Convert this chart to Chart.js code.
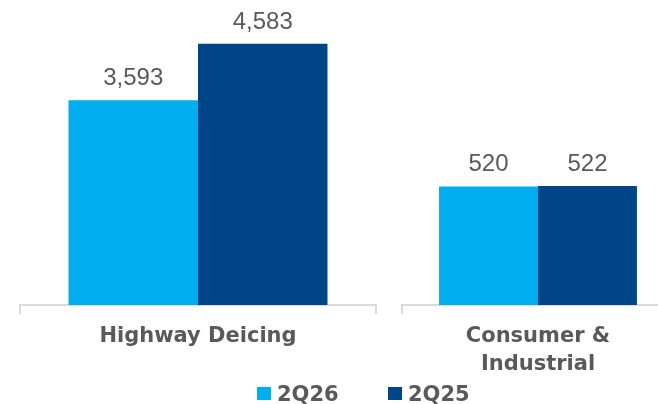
<!DOCTYPE html>
<html>
<head>
<meta charset="utf-8">
<script src="https://cdn.jsdelivr.net/npm/chart.js@4/dist/chart.umd.min.js"></script>
<style>
  html, body { margin: 0; padding: 0; width: 658px; height: 404px; overflow: hidden; background: #fff; }
  canvas { position: absolute; top: 0; }
  #chartLeft { left: 0; }
  #chartRight { left: 382px; }
  .legend-item { position: absolute; top: 382px; height: 21px; line-height: 21px; font: bold 21px "DejaVu Sans", sans-serif; color: #595959; white-space: nowrap; }
  .legend-item .swatch { position: absolute; left: 0; top: 5px; width: 14px; height: 13px; }
  .legend-item .name { margin-left: 20px; }
</style>
</head>
<body>
<canvas id="chartLeft" width="396" height="404"></canvas>
<canvas id="chartRight" width="312" height="404"></canvas>
<div class="legend-item" id="legend0" style="left:257px"><span class="swatch"></span><span class="name"></span></div>
<div class="legend-item" id="legend1" style="left:388px"><span class="swatch"></span><span class="name"></span></div>
<script>
const categories = ['Highway Deicing', ['Consumer &', 'Industrial']];
const seriesNames = ['2Q26', '2Q25'];
const series2Q26 = [3593, 520];
const series2Q25 = [4583, 522];
const axisMax = [5000, 1250];

const colors = ['#00AEEF', '#004588'];
const textColor = '#595959';
const lineColor = '#d9d9d9';

const valueLabels = {
    id: 'valueLabels',
    afterDatasetsDraw(chart) {
        const ctx = chart.ctx;
        ctx.save();
        ctx.font = '24px "Liberation Sans", Arial, sans-serif';
        ctx.fillStyle = textColor;
        ctx.textAlign = 'center';
        ctx.textBaseline = 'alphabetic';
        chart.data.datasets.forEach((ds, i) => {
            chart.getDatasetMeta(i).data.forEach((bar, j) => {
                ctx.fillText(ds.data[j].toLocaleString('en-US'), bar.x, bar.y - 15);
            });
        });
        ctx.restore();
    }
};

function makeChart(canvasId, idx, padBottom) {
    const ctx = document.getElementById(canvasId).getContext('2d');
    return new Chart(ctx, {
        type: 'bar',
        data: {
            labels: [categories[idx]],
            datasets: [
                { label: seriesNames[0], data: [series2Q26[idx]], backgroundColor: colors[0] },
                { label: seriesNames[1], data: [series2Q25[idx]], backgroundColor: colors[1] }
            ]
        },
        options: {
            responsive: false,
            animation: false,
            devicePixelRatio: 1,
            layout: { padding: { top: 20, left: 20, right: 20, bottom: padBottom } },
            datasets: { bar: { categoryPercentage: 0.7275, barPercentage: 1, borderWidth: 0 } },
            plugins: { legend: { display: false }, tooltip: { enabled: false } },
            scales: {
                x: {
                    grid: { offset: true, drawOnChartArea: false, drawTicks: true, tickLength: 9, color: lineColor, lineWidth: 2 },
                    border: { display: true, color: lineColor, width: 2 },
                    ticks: {
                        color: textColor,
                        padding: 9,
                        maxRotation: 0,
                        font: { family: '"DejaVu Sans", sans-serif', weight: 'bold', size: 21, lineHeight: 28 / 21 }
                    }
                },
                y: { display: false, min: 0, max: axisMax[idx] }
            }
        },
        plugins: [valueLabels]
    });
}

makeChart('chartLeft', 0, 44);
makeChart('chartRight', 1, 16);

seriesNames.forEach((name, i) => {
    const item = document.getElementById('legend' + i);
    item.querySelector('.swatch').style.background = colors[i];
    item.querySelector('.name').textContent = name;
});
</script>
</body>
</html>
